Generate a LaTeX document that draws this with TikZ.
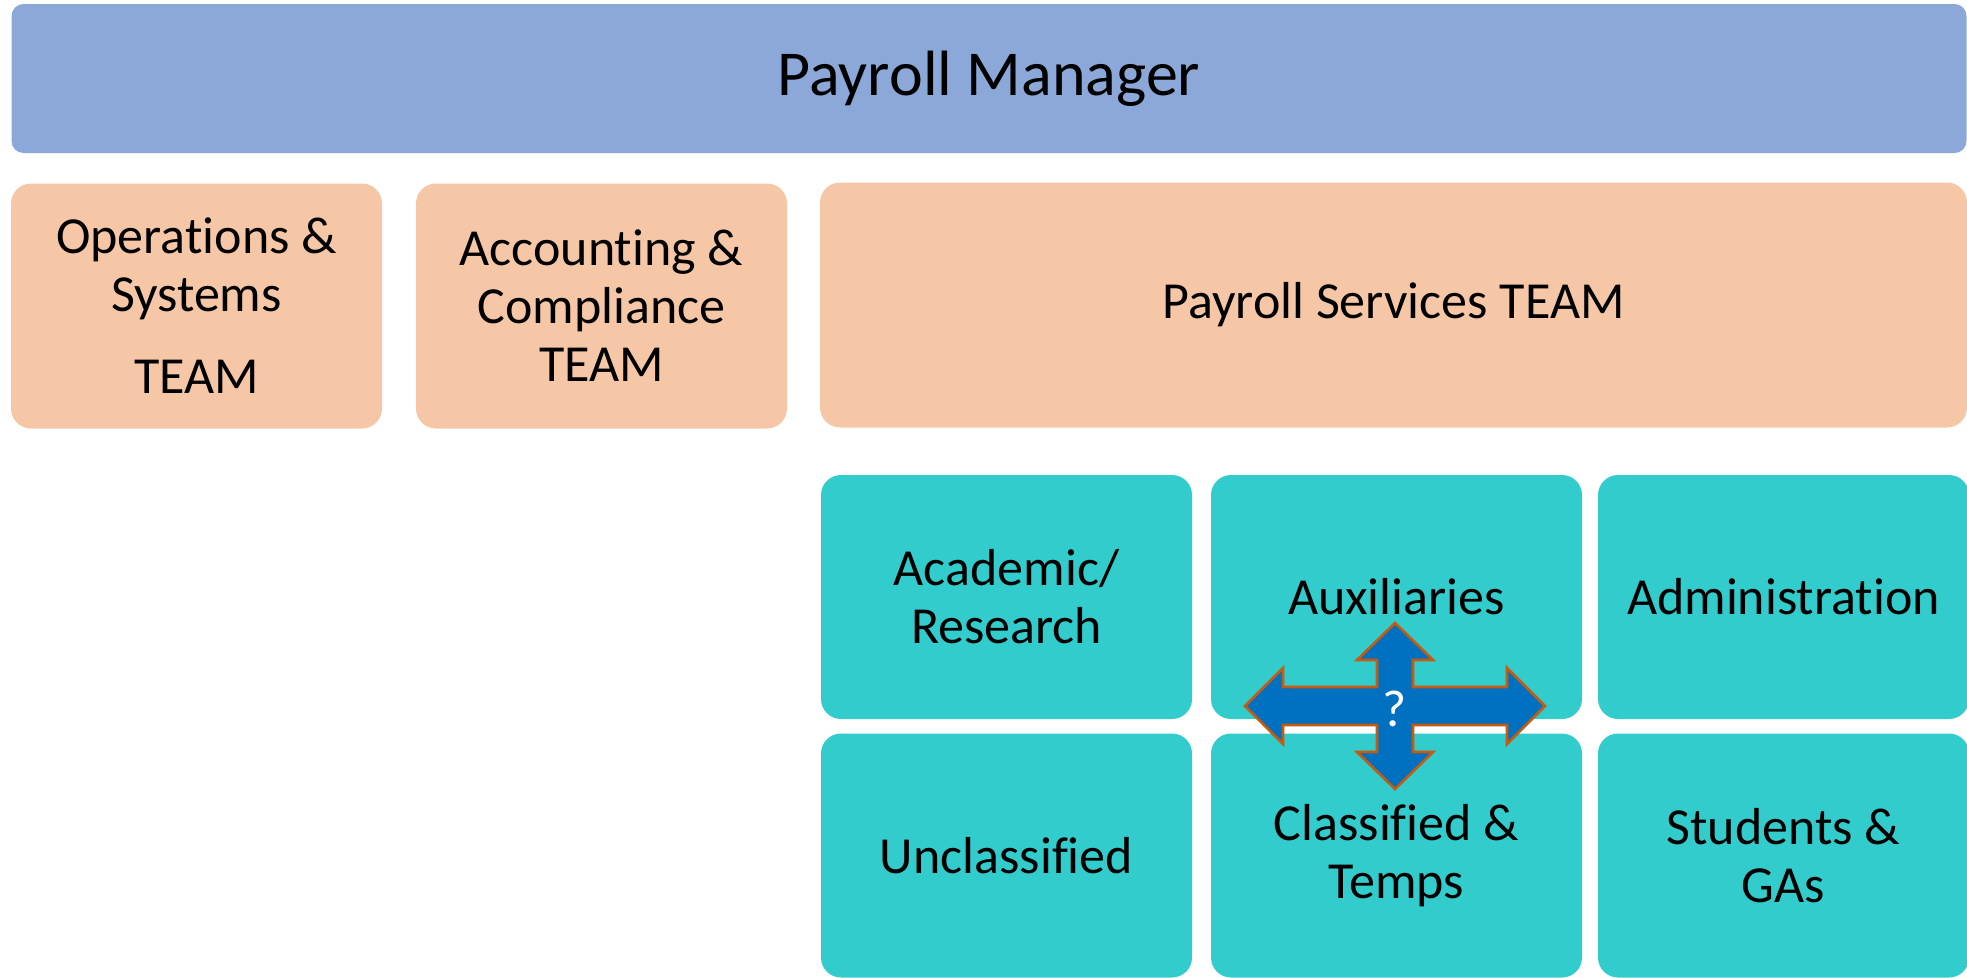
\documentclass[tikz,border=0pt]{standalone}
\usepackage{fontspec}
\setmainfont{Carlito}[Ligatures={NoCommon,NoContextual,NoRequired},Contextuals={NoAlternate}]
\begin{document}
\begin{tikzpicture}[x=1pt,y=-1pt,
  box/.style={rectangle, inner sep=0pt, align=center, text=black},
  mgrbox/.style={box, fill=mgrblue, rounded corners=12pt, font=\fontsize{64}{70}\selectfont},
  teambox/.style={box, fill=teamorange, rounded corners=20pt, minimum height=245pt, font=\fontsize{52}{58}\selectfont},
  unitbox/.style={box, fill=unitteal, rounded corners=20pt, minimum width=371pt, minimum height=244pt, font=\fontsize{52}{58}\selectfont},
  quadarrow/.style={fill=arrowblue, draw=arrowedge, line width=2.6pt, line join=miter},
]
\definecolor{mgrblue}{RGB}{139,168,216}
\definecolor{teamorange}{RGB}{246,199,166}
\definecolor{unitteal}{RGB}{51,204,204}
\definecolor{arrowblue}{RGB}{0,112,192}
\definecolor{arrowedge}{RGB}{197,90,17}

\useasboundingbox (0,0) rectangle (1967,977);

% top level
\node[mgrbox, minimum width=1955pt, minimum height=149pt] (mgr) at (989,78.5) {Payroll Manager};

% teams
\node[teambox, minimum width=371pt] (ops) at (196.5,306) {Operations \&\\Systems\\[24pt]TEAM};
\node[teambox, minimum width=371pt] (acc) at (601.5,306) {Accounting \&\\Compliance\\TEAM};
\node[teambox, minimum width=1147pt] (svc) at (1393.5,305) {Payroll Services TEAM};

% service units
\node[unitbox] (acad) at (1006.5,597) {Academic/\\Research};
\node[unitbox] (aux)  at (1396.5,597) {Auxiliaries};
\node[unitbox] (adm)  at (1783.5,597) {Administration};
\node[unitbox] (uncl) at (1006.5,855.5) {Unclassified};
\node[unitbox] (clas) at (1396.5,855.5) {Classified \&\\Temps};
\node[unitbox] (stud) at (1783.5,855.5) {Students \&\\GAs};

% four-way arrow between the units
\coordinate (hub) at (1395,706);
\begin{scope}[shift={(hub)}]
\draw[quadarrow]
  (150,0) -- (112,-38) -- (112,-19) -- (18,-19) -- (18,-46) -- (38,-46) -- (0,-83)
  -- (-38,-46) -- (-18,-46) -- (-18,-19) -- (-112,-19) -- (-112,-38) -- (-150,0)
  -- (-112,38) -- (-112,19) -- (-18,19) -- (-18,46) -- (-38,46) -- (0,83)
  -- (38,46) -- (18,46) -- (18,19) -- (112,19) -- (112,38) -- cycle;
\end{scope}
\node[text=white, inner sep=0pt, font=\fontsize{52}{58}\selectfont, yshift=-3pt] (q) at (hub) {?};
\end{tikzpicture}
\end{document}
